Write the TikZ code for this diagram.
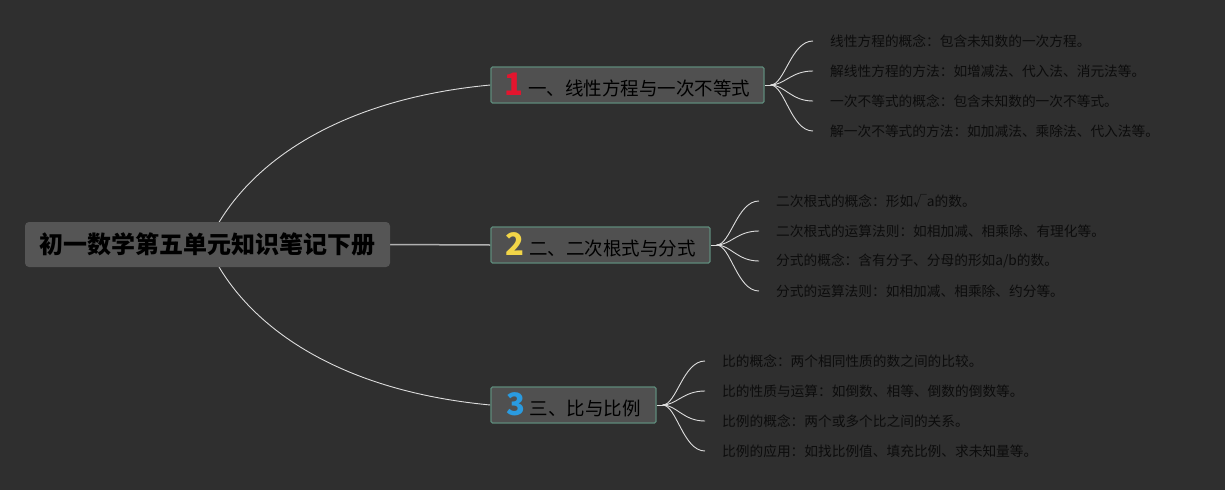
\documentclass[tikz,border=0pt]{standalone}
\usepackage{fontspec}
\setmainfont{Noto Sans CJK SC}
\usetikzlibrary{calc}
\pgfdeclarelayer{bg}
\pgfdeclarelayer{lines}
\pgfsetlayers{bg,lines,main}
\definecolor{bgc}{HTML}{2F2F2F}
\definecolor{rootfill}{HTML}{555555}
\definecolor{brfill}{HTML}{505050}
\definecolor{brdraw}{HTML}{5E8A7A}
\definecolor{leaftxt}{HTML}{0C0C0C}
\definecolor{linec}{HTML}{DDDDDD}
\definecolor{mainline}{HTML}{B0B0B0}
\definecolor{nred}{HTML}{E3152E}
\definecolor{nyellow}{HTML}{F2D548}
\definecolor{nblue}{HTML}{2A9BE0}
\newcommand{\numf}[2]{{\fontsize{31}{31}\selectfont\bfseries\color{#1}#2}\hspace{5pt}}
\tikzset{
  rootbox/.style={fill=rootfill, rounded corners=4pt, inner sep=0pt,
    minimum width=365pt, minimum height=45pt,
    font=\fontsize{24}{27}\selectfont\bfseries, text=black},
  brbox/.style={fill=brfill, draw=brdraw, line width=1.2pt, rounded corners=1.5pt,
    inner sep=0pt, minimum height=36pt,
    font=\fontsize{18.5}{20}\selectfont, text=black},
  leaf/.style={anchor=west, inner xsep=17pt, inner ysep=2pt,
    font=\fontsize{13.7}{15}\selectfont, text=leaftxt},
  conn/.style={draw=linec, line width=0.9pt},
  fan/.style={draw=linec, line width=0.9pt},
}
\begin{document}
\begin{tikzpicture}[x=1pt,y=-1pt]
\begin{pgfonlayer}{bg}
\fill[bgc] (0,0) rectangle (1225,490);
\end{pgfonlayer}
\useasboundingbox (0,0) rectangle (1225,490);

\node[rootbox] (root) at (207.5,244.5) {初一数学第五单元知识笔记下册};

\node[brbox, minimum width=273pt] (b1) at (627.5,85) {\numf{nred}{1}一、线性方程与一次不等式};
\node[brbox, minimum width=219pt] (b2) at (600.5,245) {\numf{nyellow}{2}二、二次根式与分式};
\node[brbox, minimum width=165pt] (b3) at (573.5,405) {\numf{nblue}{3}三、比与比例};

% leaves of branch 1
\node[leaf] (l11) at (813,41) {线性方程的概念：包含未知数的一次方程。};
\node[leaf] (l12) at (813,71) {解线性方程的方法：如增减法、代入法、消元法等。};
\node[leaf] (l13) at (813,101) {一次不等式的概念：包含未知数的一次不等式。};
\node[leaf] (l14) at (813,131) {解一次不等式的方法：如加减法、乘除法、代入法等。};
% leaves of branch 2
\node[leaf] (l21) at (759,201) {二次根式的概念：形如√a的数。};
\node[leaf] (l22) at (759,231) {二次根式的运算法则：如相加减、相乘除、有理化等。};
\node[leaf] (l23) at (759,261) {分式的概念：含有分子、分母的形如a/b的数。};
\node[leaf] (l24) at (759,291) {分式的运算法则：如相加减、相乘除、约分等。};
% leaves of branch 3
\node[leaf] (l31) at (705,361) {比的概念：两个相同性质的数之间的比较。};
\node[leaf] (l32) at (705,391) {比的性质与运算：如倒数、相等、倒数的倒数等。};
\node[leaf] (l33) at (705,421) {比例的概念：两个或多个比之间的关系。};
\node[leaf] (l34) at (705,451) {比例的应用：如找比例值、填充比例、求未知量等。};

\coordinate (j1) at ($(b1.east)+(6,0)$);
\coordinate (j2) at ($(b2.east)+(6,0)$);
\coordinate (j3) at ($(b3.east)+(6,0)$);

\begin{pgfonlayer}{lines}
\draw[conn] (root.center) .. controls (240,170) and (330,100) .. (b1.west);
\draw[conn] (root.center) .. controls (240,320) and (330,390) .. (b3.west);
\draw[draw=mainline, line width=1.5pt] (root.east) -- (b2.west);
\foreach \b in {1,2,3}{
  \draw[fan] (b\b.east) -- (j\b);
  \foreach \l in {1,2,3,4}{
    \draw[fan] (j\b) .. controls +(14,0) and +(-22,0) .. (l\b\l.west);
  }
}
\end{pgfonlayer}
\end{tikzpicture}
\end{document}
